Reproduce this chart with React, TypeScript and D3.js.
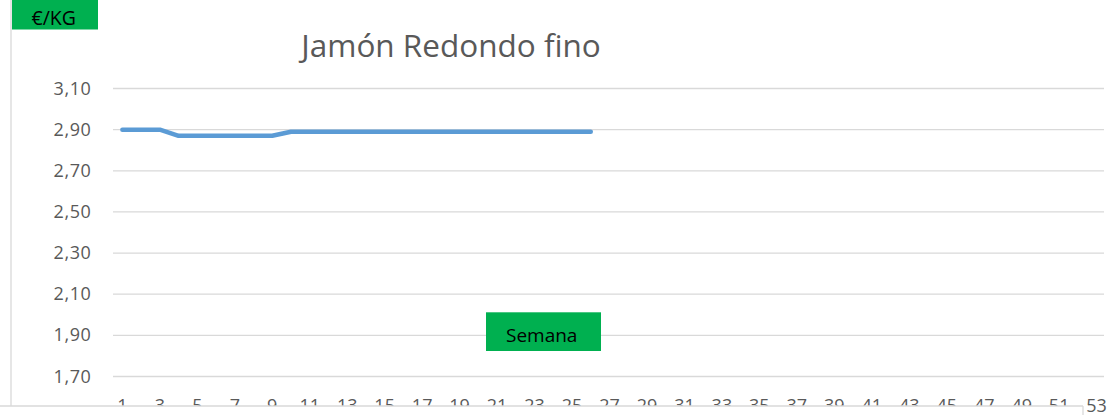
import React from "react";
import * as d3 from "d3";

const weeks: number[] = Array.from({ length: 53 }, (_, i) => i + 1);
const priceWeeks: number[] = [1,2,3,4,5,6,7,8,9,10,11,12,13,14,15,16,17,18,19,20,21,22,23,24,25,26];
const prices: number[] = [2.90,2.90,2.90,2.87,2.87,2.87,2.87,2.87,2.87,2.89,2.89,2.89,2.89,2.89,2.89,2.89,2.89,2.89,2.89,2.89,2.89,2.89,2.89,2.89,2.89,2.89];
const yTicks: number[] = [1.7, 1.9, 2.1, 2.3, 2.5, 2.7, 2.9, 3.1];
const title = "Jamón Redondo fino";
const yUnit = "€/KG";
const xName = "Semana";

const W = 1118;
const H = 415;
const FONT = "'Open Sans', 'Noto Sans', sans-serif";

export default function App() {
  const x = d3.scalePoint<number>().domain(weeks).range([113, 1106]).padding(0.5);
  const y = d3.scaleLinear().domain([1.7, 3.1]).range([376.5, 88.5]);
  const line = d3
    .line<number>()
    .x((_, i) => x(priceWeeks[i]) as number)
    .y((d) => y(d));
  const fmt = (v: number) => v.toFixed(2).replace(".", ",");
  const oddWeeks = weeks.filter((w) => w % 2 === 1);

  return (
    <svg
      width={W}
      height={H}
      style={{ position: "absolute", left: 0, top: 0, background: "#fff" }}
      fontFamily={FONT}
    >
      <rect x={0} y={0} width={W} height={H} fill="#fff" />
      {yTicks.map((t) => (
        <line key={t} x1={113} x2={1104} y1={y(t)} y2={y(t)} stroke="#D9D9D9" strokeWidth={1.3} />
      ))}
      {yTicks.map((t) => (
        <text key={"l" + t} x={91.5} y={y(t) + 6} textAnchor="end" fontSize={18} letterSpacing={0.6} fill="#595959">
          {fmt(t)}
        </text>
      ))}
      {oddWeeks.map((w) => (
        <text key={"x" + w} x={x(w) as number} y={411.5} textAnchor="middle" fontSize={18} fill="#595959">
          {w}
        </text>
      ))}
      <rect x={0} y={406} width={1083} height={H - 406} fill="#fff" />
      <line x1={0} x2={1083} y1={406} y2={406} stroke="#D9D9D9" strokeWidth={1.3} />
      <line x1={1083} x2={1083} y1={406} y2={H} stroke="#D9D9D9" strokeWidth={1.3} />
      <line x1={11} x2={11} y1={0} y2={406} stroke="#D9D9D9" strokeWidth={1.3} />
      <path
        d={line(prices) || ""}
        fill="none"
        stroke="#5B9BD5"
        strokeWidth={4.5}
        strokeLinecap="round"
        strokeLinejoin="round"
      />
      <text x={451} y={56.7} textAnchor="middle" fontSize={31.5} fill="#595959">
        {title}
      </text>
      <rect x={12} y={0} width={86} height={29.5} fill="#00B050" />
      <text x={31.5} y={25} fontSize={19.5} fill="#000">
        {yUnit}
      </text>
      <rect x={486} y={312.3} width={115} height={38.7} fill="#00B050" />
      <text x={541.7} y={342.3} textAnchor="middle" fontSize={19} fill="#000">
        {xName}
      </text>
    </svg>
  );
}
